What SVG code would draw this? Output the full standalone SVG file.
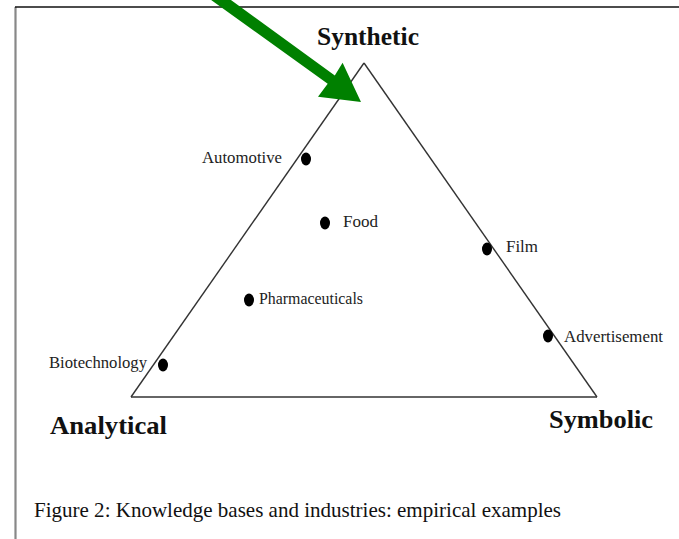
<svg xmlns="http://www.w3.org/2000/svg" width="679" height="539" viewBox="0 0 679 539">
  <style>
    .corner { font-family: "Liberation Serif", "Times New Roman", serif; font-weight: bold; font-size: 26px; fill: #111; }
    .lbl { font-family: "Liberation Serif", "Times New Roman", serif; font-size: 16.5px; fill: #222; }
    .cap { font-family: "Liberation Serif", "Times New Roman", serif; font-size: 21.5px; fill: #111; }
    .dot { fill: #000; }
    .edge { stroke: #333; stroke-width: 1.4; fill: none; }
  </style>
  <rect width="679" height="539" fill="#fff"/>
  <g id="frame">
    <line x1="15.5" y1="7" x2="15.5" y2="539" stroke="#888" stroke-width="2.2"/>
    <line x1="15" y1="7" x2="679" y2="7" stroke="#111" stroke-width="1.5"/>
  </g>
  <g id="connectors">
    <line class="edge" x1="364" y1="63" x2="131" y2="397"/>
    <line class="edge" x1="364" y1="63" x2="597" y2="397"/>
    <line class="edge" x1="131" y1="397" x2="597" y2="397" stroke="#222" stroke-width="1.6"/>
    <polygon id="pointer" fill="#008000" points="164.9,-33.2 172.0,-42.9 334.8,75.6 342.6,62.7 361,102 318,96.7 327.7,83.7"/>
  </g>
  <g id="synthetic"><text class="corner" x="317" y="45" textLength="102" lengthAdjust="spacingAndGlyphs">Synthetic</text></g>
  <g id="analytical"><text class="corner" x="50" y="434" textLength="117" lengthAdjust="spacingAndGlyphs">Analytical</text></g>
  <g id="symbolic"><text class="corner" x="549" y="428" textLength="104" lengthAdjust="spacingAndGlyphs">Symbolic</text></g>
  <g id="automotive">
    <ellipse class="dot" cx="306" cy="159" rx="5" ry="6.5"/>
    <text class="lbl" x="202" y="163" textLength="80" lengthAdjust="spacingAndGlyphs">Automotive</text>
  </g>
  <g id="food">
    <ellipse class="dot" cx="325" cy="223" rx="5" ry="6.5"/>
    <text class="lbl" x="343" y="227" textLength="35" lengthAdjust="spacingAndGlyphs">Food</text>
  </g>
  <g id="film">
    <ellipse class="dot" cx="487" cy="249" rx="5" ry="6.5"/>
    <text class="lbl" x="506" y="252" textLength="32" lengthAdjust="spacingAndGlyphs">Film</text>
  </g>
  <g id="pharmaceuticals">
    <ellipse class="dot" cx="249" cy="300" rx="5" ry="6.5"/>
    <text class="lbl" x="259" y="304" textLength="104" lengthAdjust="spacingAndGlyphs">Pharmaceuticals</text>
  </g>
  <g id="advertisement">
    <ellipse class="dot" cx="548" cy="336" rx="5" ry="6.5"/>
    <text class="lbl" x="564" y="342" textLength="99" lengthAdjust="spacingAndGlyphs">Advertisement</text>
  </g>
  <g id="biotechnology">
    <ellipse class="dot" cx="163" cy="365" rx="5" ry="6.5"/>
    <text class="lbl" x="49" y="368" textLength="98" lengthAdjust="spacingAndGlyphs">Biotechnology</text>
  </g>
  <g id="caption"><text class="cap" x="34" y="517" textLength="527" lengthAdjust="spacingAndGlyphs">Figure 2: Knowledge bases and industries: empirical examples</text></g>
</svg>
